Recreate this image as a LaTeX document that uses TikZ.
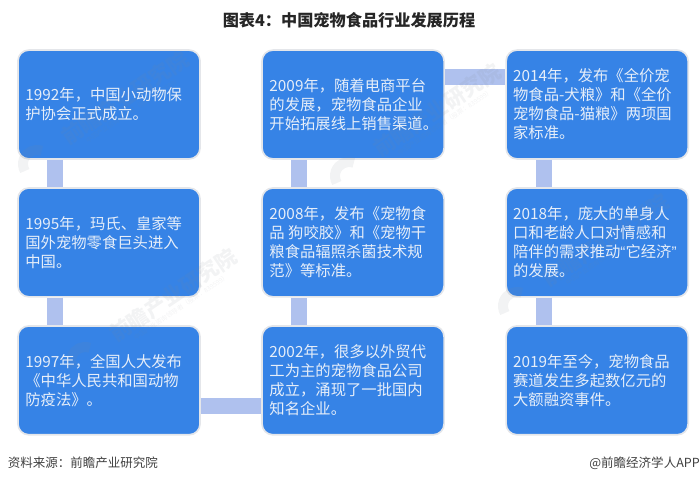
\documentclass[tikz,border=0pt]{standalone}
\usepackage{fontspec}
\setmainfont{Noto Sans CJK SC}
\newfontfamily\quotefont{Liberation Sans}
\usepackage{xcolor}
\usetikzlibrary{positioning}
\definecolor{boxblue}{HTML}{3683E6}
\definecolor{linkblue}{HTML}{AFC1EE}
\definecolor{boxedge}{HTML}{E4E6EA}
\definecolor{boxtext}{HTML}{E6EEF9}
\definecolor{markgray}{HTML}{808890}

\begin{document}
\begin{tikzpicture}[
    x=0.025cm, y=-0.025cm,
    node distance=0.685cm and 1.508cm,
    event/.style={rectangle, draw=boxedge, fill=boxblue, line width=1.2pt, rounded corners=0.27cm, minimum width=4.55cm, minimum height=2.72cm, inner sep=0pt},
    eventtext/.style={text=boxtext, align=left, anchor=west, inner xsep=0pt, font=\fontsize{10.9}{13.5}\selectfont},
    link/.style={draw=linkblue, line width=0.4cm},
    markbig/.style={text=markgray, opacity=0.1, rotate=34, font=\fontsize{15}{15}\selectfont\bfseries},
    marksmall/.style={text=markgray, opacity=0.1, rotate=34, font=\fontsize{4.6}{5}\selectfont},
    marklogo/.style={draw=markgray, opacity=0.1, line width=0.25cm},
    footer/.style={inner sep=0pt, font=\fontsize{8.9}{10}\selectfont, text=black!75}
]
    \useasboundingbox (0,0) rectangle (700,483);

    % Title
    \node (title) at (349,20) [font=\fontsize{11.5}{13}\selectfont\bfseries, text=black!85] {图表4：中国宠物食品行业发展历程};

    % Row 1
    \node (a1) at (109,104.5) [event] {};
    \node (b1) [event, right=of a1] {};
    \node (c1) [event, right=of b1] {};

    % Row 2
    \node (a2) [event, below=of a1] {};
    \node (b2) [event, below=of b1] {};
    \node (c2) [event, below=of c1] {};

    % Row 3
    \node (a3) [event, below=of a2] {};
    \node (b3) [event, below=of b2] {};
    \node (c3) [event, below=of c2] {};

    % Connecting bars
    \draw [link] ([xshift=-1.35cm]a1.south) -- ([xshift=-1.35cm]a2.north);
    \draw [link] ([xshift=-1.35cm]a2.south) -- ([xshift=-1.35cm]a3.north);
    \draw [link] ([yshift=-0.65cm]a3.east) -- ([yshift=-0.65cm]b3.west);
    \draw [link] ([xshift=-1.35cm]b3.north) -- ([xshift=-1.35cm]b2.south);
    \draw [link] ([xshift=-1.35cm]b2.north) -- ([xshift=-1.35cm]b1.south);
    \draw [link] ([yshift=0.69cm]b1.east) -- ([yshift=0.69cm]c1.west);
    \draw [link] ([xshift=-1.34cm]c1.south) -- ([xshift=-1.34cm]c2.north);
    \draw [link] ([xshift=-1.34cm]c2.south) -- ([xshift=-1.34cm]c3.north);

    % Watermarks
    \foreach \name/\mx/\my in {ma/125/98, mb/173/295, mc/437/110, md/605/240} {
        \node (\name big) at (\mx,\my) [markbig] {前瞻产业研究院};
        \node (\name small) at (\mx+8,\my+12) [marksmall] {中国产业咨询领导者（股票：839599）};
        \coordinate (\name logo) at (\mx-88,\my+66);
        \draw [marklogo] (\name logo) ++(70:0.35cm) arc[start angle=70, end angle=210, radius=0.35cm];
    }

    % Texts
    \node (a1text) [eventtext] at ([xshift=0.2cm]a1.west) {1992年，中国小动物保\\护协会正式成立。};
    \node (b1text) [eventtext] at ([xshift=0.2cm]b1.west) {2009年，随着电商平台\\的发展，宠物食品企业\\开始拓展线上销售渠道。};
    \node (c1text) [eventtext] at ([xshift=0.19cm]c1.west) {2014年，发布《全价宠\\物食品-犬粮》和《全价\\宠物食品-猫粮》两项国\\家标准。};
    \node (a2text) [eventtext] at ([xshift=0.2cm]a2.west) {1995年，玛氏、皇家等\\国外宠物零食巨头进入\\中国。};
    \node (b2text) [eventtext] at ([xshift=0.2cm]b2.west) {2008年，发布《宠物食\\品 狗咬胶》和《宠物干\\粮食品辐照杀菌技术规\\范》等标准。};
    \node (c2text) [eventtext] at ([xshift=0.19cm]c2.west) {2018年，庞大的单身人\\口和老龄人口对情感和\\陪伴的需求推动{\quotefont “}它经济{\quotefont ”}\\的发展。};
    \node (a3text) [eventtext] at ([xshift=0.2cm]a3.west) {1997年，全国人大发布\\《中华人民共和国动物\\防疫法》。};
    \node (b3text) [eventtext] at ([xshift=0.2cm]b3.west) {2002年，很多以外贸代\\工为主的宠物食品公司\\成立，涌现了一批国内\\知名企业。};
    \node (c3text) [eventtext] at ([xshift=0.19cm]c3.west) {2019年至今，宠物食品\\赛道发生多起数亿元的\\大额融资事件。};

    % Footer
    \node (source) at (7.5,463) [footer, anchor=west] {资料来源：前瞻产业研究院};
    \node (brand) at (700,463) [footer, anchor=east] {@前瞻经济学人APP};

\end{tikzpicture}
\end{document}
